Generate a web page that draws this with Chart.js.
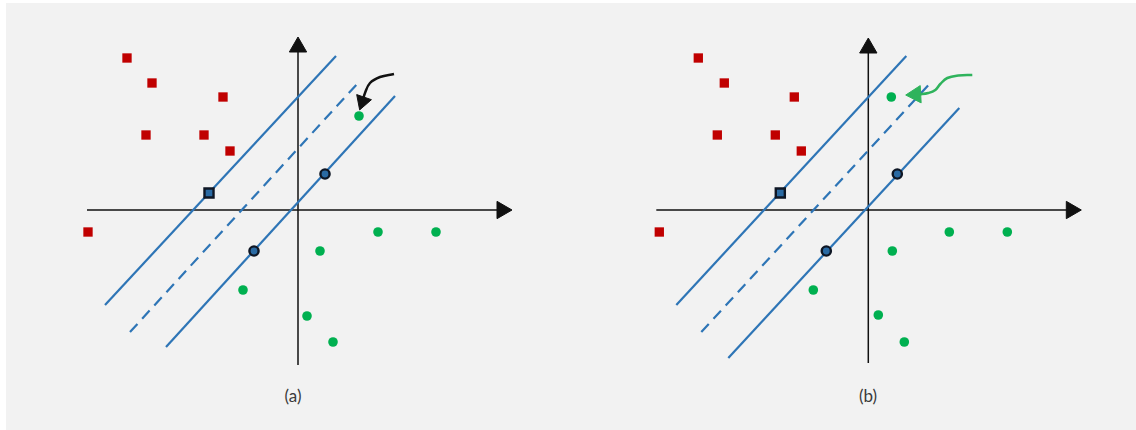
<!DOCTYPE html>
<html>
<head>
<meta charset="utf-8">
<script src="https://cdn.jsdelivr.net/npm/chart.js@4/dist/chart.umd.min.js"></script>
<style>
  html, body { margin: 0; padding: 0; background: #fff; }
  .frame { position: absolute; left: 6px; top: 3px; width: 1130px; height: 427px; background: #f2f2f2; }
  .panel { position: absolute; top: 0; }
  .cap { position: absolute; top: 384px; width: 60px; text-align: center;
    font: 17px Lato, 'Open Sans', sans-serif; color: #3a3a3a; line-height: 24px; }
</style>
</head>
<body>
<div class="frame"></div>
<canvas id="pa" class="panel" style="left:0" width="568" height="380"></canvas>
<canvas id="pb" class="panel" style="left:568px" width="568" height="380"></canvas>
<div class="cap" style="left:263px">(a)</div>
<div class="cap" style="left:838px">(b)</div>
<script>
// SVM margin figure, two panels: (a) original fit, (b) after a point moves.
// coordinates are in figure units, origin at the axes crossing

// ---------- panel (a) ----------
const axisXA = [-21.1, 21.4];
const axisYA = [-15.5, 17.3];
const redA = [[-17.1, 15.2], [-14.6, 12.7], [-7.5, 11.3], [-15.2, 7.5], [-9.4, 7.5], [-6.8, 5.9], [-21.0, -2.2]];
const greenA = [[6.1, 9.4], [8.0, -2.2], [13.8, -2.2], [2.2, -4.1], [-5.5, -8.0], [0.9, -10.6], [3.5, -13.2]];
const svRedA = [[-8.9, 1.7]];
const svGreenA = [[2.7, 3.6], [-4.4, -4.1]];
const upperA = [[-19.3, -9.5], [3.8, 15.4]];
const hyperA = [[-16.8, -12.2], [6.0, 12.7]];
const lowerA = [[-13.2, -13.7], [9.7, 11.4]];
const arrowA = [[9.6, 13.6], [8.2, 13.3], [7.2, 12.7], [6.7, 11.7], [6.46, 10.86]];

// ---------- panel (b) ----------
const axisXB = [-21.2, 21.3];
const axisYB = [-15.3, 17.2];
const redB = [[-17.0, 15.2], [-14.4, 12.7], [-7.4, 11.3], [-15.1, 7.5], [-9.3, 7.5], [-6.7, 5.9], [-20.9, -2.2]];
const greenB = [[2.3, 11.3], [8.1, -2.2], [13.9, -2.2], [2.4, -4.1], [-5.5, -8.0], [1.0, -10.5], [3.6, -13.2]];
const svRedB = [[-8.8, 1.7]];
const svGreenB = [[2.9, 3.6], [-4.2, -4.1]];
const upperB = [[-19.2, -9.5], [3.8, 15.4]];
const hyperB = [[-16.7, -12.2], [6.2, 12.7]];
const lowerB = [[-14.0, -14.8], [9.1, 10.2]];
const arrowB = [[10.4, 13.5], [9.0, 13.45], [7.9, 13.2], [7.2, 12.6], [6.7, 12.0], [6.0, 11.7], [5.17, 11.57], [4.74, 11.55]];

const PX = 10;        // pixels per unit
const W = 568, H = 380;
const RED = '#c00000', GREEN = '#00b050', BLUE = '#2e75b6', INK = '#111';
const HEAD = 10;      // axis arrowhead radius, px

function toXY(pts) { return pts.map(function (p) { return { x: p[0], y: p[1] }; }); }

function lineSet(pts, color, width, dash, order) {
    return { data: toXY(pts), showLine: true, borderColor: color, borderWidth: width,
             borderDash: dash || [], pointRadius: 0, order: order, clip: false };
}

function axisSet(pts, rot) {
    return { data: toXY(pts), showLine: true, borderColor: INK, borderWidth: 1.5,
             pointRadius: [0, HEAD], pointStyle: 'triangle', rotation: rot,
             pointBackgroundColor: INK, pointBorderColor: INK, pointBorderWidth: 1,
             order: 9, clip: false };
}

function arrowSet(pts, color, head, rot) {
    return { data: toXY(pts), showLine: true, borderColor: color, borderWidth: 2.5,
             tension: 0.4, pointStyle: 'triangle', rotation: rot,
             pointRadius: pts.map(function (p, i) { return i === pts.length - 1 ? head : 0; }),
             pointBackgroundColor: color, pointBorderColor: color, pointBorderWidth: 1,
             order: 2, clip: false };
}

function pointSet(pts, style, r, fill, border, bw) {
    return { data: toXY(pts), showLine: false, pointStyle: style, pointRadius: r,
             backgroundColor: fill, borderColor: border, borderWidth: bw,
             pointBackgroundColor: fill, pointBorderColor: border, pointBorderWidth: bw,
             order: 1, clip: false };
}

function makePanel(id, ox, oy, d) {
    const off = HEAD / PX;   // triangle centre sits one radius inside the tip
    return new Chart(document.getElementById(id), {
        type: 'scatter',
        data: {
            datasets: [
                axisSet([[d.ax[0], 0], [d.ax[1] - off, 0]], 90),
                axisSet([[0, d.ay[0]], [0, d.ay[1] - off]], 0),
                lineSet(d.upper, BLUE, 2.2, [], 5),
                lineSet(d.hyper, BLUE, 2.2, [11, 7], 5),
                lineSet(d.lower, BLUE, 2.2, [], 5),
                arrowSet(d.arrow, d.arrowColor, d.head, d.rot),
                pointSet(d.red, 'rect', 6.6, RED, RED, 0),
                pointSet(d.green, 'circle', 4.8, GREEN, GREEN, 0),
                pointSet(d.svRed, 'rect', 6.4, '#2a6aa3', '#0e1624', 2.4),
                pointSet(d.svGreen, 'circle', 4.6, '#2a6aa3', '#0e1624', 2.4)
            ]
        },
        options: {
            responsive: false,
            animation: false,
            devicePixelRatio: 1,
            events: [],
            layout: { padding: 0, autoPadding: false },
            scales: {
                x: { type: 'linear', display: false, min: -ox / PX, max: (W - ox) / PX },
                y: { type: 'linear', display: false, min: -(H - oy) / PX, max: oy / PX }
            },
            plugins: { legend: { display: false }, tooltip: { enabled: false } }
        }
    });
}

makePanel('pa', 298, 210, {
    ax: axisXA, ay: axisYA, red: redA, green: greenA, svRed: svRedA, svGreen: svGreenA,
    upper: upperA, hyper: hyperA, lower: lowerA,
    arrow: arrowA, arrowColor: '#111', head: 9, rot: 199
});
makePanel('pb', 300.3, 210, {
    ax: axisXB, ay: axisYB, red: redB, green: greenB, svRed: svRedB, svGreen: svGreenB,
    upper: upperB, hyper: hyperB, lower: lowerB,
    arrow: arrowB, arrowColor: '#2fb35c', head: 10, rot: 267
});
</script>
</body>
</html>
